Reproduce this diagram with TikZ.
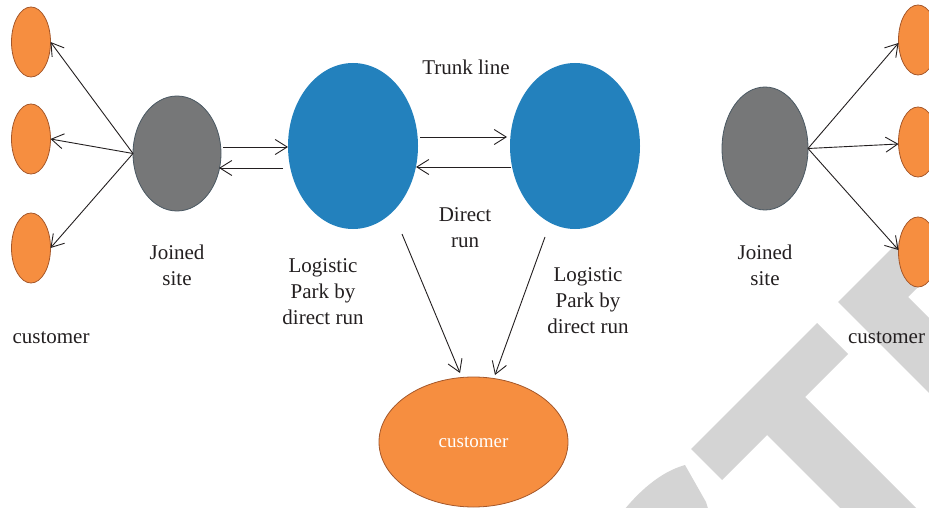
\documentclass[tikz,border=0pt]{standalone}
\usepackage{fontspec}
\setmainfont{Liberation Serif}
\usetikzlibrary{arrows.meta,shapes.geometric}
\definecolor{custorange}{HTML}{F68E40}
\definecolor{custedge}{HTML}{A4572A}
\definecolor{parkblue}{HTML}{2381BD}
\definecolor{sitegray}{HTML}{767778}
\definecolor{siteedge}{HTML}{4A5862}
\definecolor{inkgray}{HTML}{231F20}
\definecolor{markgray}{HTML}{D4D4D4}

\begin{document}
\begin{tikzpicture}[x=1pt,y=-1pt,
  every node/.style={inner sep=0pt, outer sep=0pt},
  cust/.style={ellipse, fill=custorange, draw=custedge, line width=0.8pt,
    minimum width=39pt, minimum height=70pt},
  site/.style={ellipse, fill=sitegray, draw=siteedge, line width=0.8pt},
  park/.style={ellipse, fill=parkblue, minimum width=130pt, minimum height=166pt},
  lbl/.style={align=center, text=inkgray, font=\fontsize{21}{26}\selectfont},
  arr/.style={draw=inkgray, line width=0.9pt,
    -{Straight Barb[length=12pt,width=15pt,line width=0.9pt]}}
]
\useasboundingbox (0,0) rectangle (929,508);

% background lettering in light gray
\begin{scope}
  \clip (0,0) rectangle (929,508);
  \fill[markgray] (691,449) -- (817,323) -- (848,354) -- (805,397)
    -- (935,527) -- (859,527) -- (767,435) -- (722,480) -- cycle;
  \fill[markgray] (838,302) -- (900,240) -- (935,240) -- (935,270)
    -- (908,297) -- (950,339) -- (950,414) -- cycle;
  \fill[markgray] (685,465) -- (706,502) -- (710,515) -- (620,515)
    .. controls (638,492) and (660,472) .. (685,465) -- cycle;
\end{scope}

% customers on the left
\node[cust] (o1) at (31,42) {};
\node[cust] (o2) at (31,139) {};
\node[cust] (o3) at (31,248) {};
% customers on the right
\node[cust] (o4) at (918,40) {};
\node[cust] (o5) at (918,142) {};
\node[cust] (o6) at (918,252) {};

% joined sites
\node[site, minimum width=88pt, minimum height=115pt] (gl) at (177,153.5) {};
\node[site, minimum width=86pt, minimum height=123pt] (gr) at (765,148.5) {};

% logistic parks
\node[park] (bl) at (353,146) {};
\node[park] (br) at (575,146) {};

% final customer
\node[ellipse, fill=custorange, draw=custedge, line width=0.8pt,
  minimum width=189pt, minimum height=130pt,
  text=white, font=\fontsize{19}{22}\selectfont] (cu) at (473.5,442) {customer};

% distribution from the joined sites
\draw[arr] (gl.west) -- (o1.east);
\draw[arr] (gl.west) -- (o2.east);
\draw[arr] (gl.west) -- (o3.east);
\draw[arr] (gr.east) -- ([yshift=-3pt]o4.west);
\draw[arr] (gr.east) -- ([yshift=-2pt]o5.west);
\draw[arr] (gr.east) -- ([yshift=2pt]o6.west);

% site <-> park
\draw[arr] ([shift={(2,-6.5)}]gl.east) -- ([shift={(0,-6.5)}]gl.east -| bl.west);
\draw[arr] ([shift={(-5,22)}]bl.west) -- ([shift={(-2,14.5)}]gl.east);

% trunk line between the parks
\draw[arr] ([shift={(2,-9)}]bl.east) -- ([shift={(-3,-9)}]br.west);
\draw[arr] ([shift={(1,21)}]br.west) -- ([shift={(-2,21)}]bl.east);

% direct runs to the customer
\draw[arr] ([shift={(49,5)}]bl.south) -- ([shift={(-13.5,-4)}]cu.north);
\draw[arr] ([shift={(-30,8)}]br.south) -- ([shift={(21.5,-2)}]cu.north);

% labels (base = baseline of the last line)
\node[lbl, anchor=base] (tl) at (466,75) {Trunk line};
\node[lbl, anchor=base] (dr) at (465,247) {Direct\\run};
\node[lbl, anchor=base] (jl) at (177,285) {Joined\\site};
\node[lbl, anchor=base] (jr) at (765,285) {Joined\\site};
\node[lbl, anchor=base] (pl) at (323,324) {Logistic\\Park by\\direct run};
\node[lbl, anchor=base] (pr) at (588,333) {Logistic\\Park by\\direct run};
\node[lbl, anchor=base] (cl) at (51,343) {customer};
\node[lbl, anchor=base] (cr) at (886.5,343) {customer};
\end{tikzpicture}
\end{document}
